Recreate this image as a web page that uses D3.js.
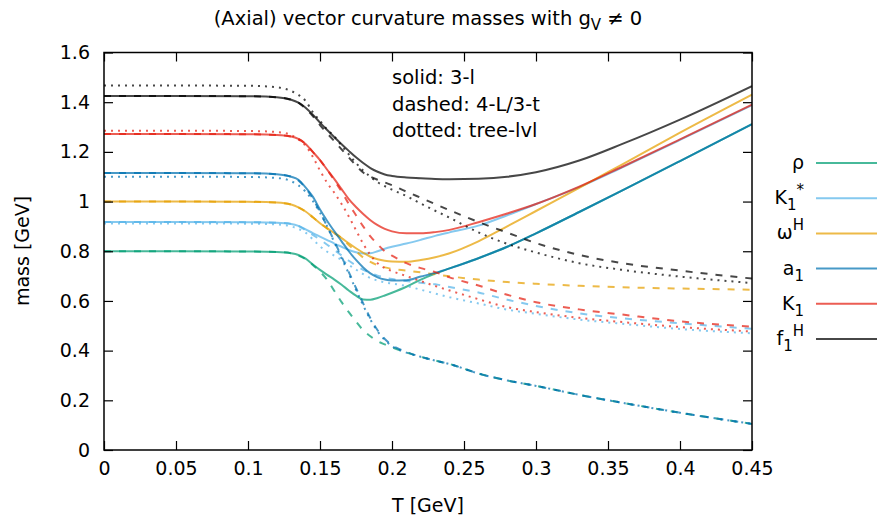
<!DOCTYPE html>
<html><head><meta charset="utf-8">
<script src="https://cdn.jsdelivr.net/npm/d3@7"></script>
<style>body{margin:0;background:#fff}svg{display:block}text{font-family:"DejaVu Sans",sans-serif;fill:#000}</style>
</head><body><svg id="c" width="877" height="521"></svg>
<script>
// ---------- data ----------
const T = [0,0.05,0.1,0.12,0.13,0.135,0.14,0.145,0.15,0.155,0.16,0.165,0.17,0.175,0.18,0.185,0.19,0.195,0.2,0.21,0.22,0.23,0.24,0.26,0.28,0.3,0.33,0.36,0.4,0.45];
const xTicks = [0,0.05,0.1,0.15,0.2,0.25,0.3,0.35,0.4,0.45];
const yTicks = [0,0.2,0.4,0.6,0.8,1,1.2,1.4,1.6];
const legendLabels = ["ρ","K1*","ωH","a1","K1","f1H"];
const colors = ["#009e73","#56b4e9","#e69f00","#0072b2","#e51e10","#000000"];

const rhoSolid   = [0.8,0.8,0.799,0.797,0.792,0.785,0.77,0.747,0.725,0.705,0.686,0.665,0.642,0.621,0.606,0.605,0.612,0.622,0.633,0.657,0.686,0.71,0.731,0.772,0.818,0.872,0.958,1.045,1.163,1.312];
const rhoDashed  = [0.8,0.8,0.799,0.797,0.792,0.783,0.768,0.745,0.718,0.685,0.64,0.595,0.555,0.517,0.482,0.458,0.438,0.425,0.413,0.393,0.375,0.36,0.346,0.308,0.28,0.258,0.222,0.19,0.15,0.105];
const k1sSolid   = [0.918,0.918,0.917,0.915,0.91,0.902,0.888,0.873,0.859,0.845,0.831,0.818,0.805,0.796,0.791,0.792,0.8,0.81,0.818,0.831,0.846,0.862,0.876,0.903,0.945,0.99,1.058,1.138,1.248,1.388];
const k1sDashed  = [0.918,0.918,0.917,0.915,0.91,0.902,0.885,0.866,0.847,0.826,0.805,0.783,0.762,0.742,0.725,0.712,0.702,0.694,0.688,0.68,0.673,0.667,0.656,0.634,0.605,0.58,0.55,0.53,0.51,0.488];
const k1sDotted  = [0.912,0.912,0.911,0.908,0.9,0.89,0.875,0.848,0.82,0.798,0.782,0.765,0.745,0.726,0.708,0.692,0.682,0.675,0.67,0.66,0.645,0.63,0.615,0.59,0.565,0.548,0.525,0.508,0.487,0.47];
const omSolid    = [1.0,1.0,0.999,0.996,0.988,0.977,0.96,0.937,0.913,0.892,0.873,0.853,0.832,0.812,0.794,0.778,0.768,0.762,0.759,0.758,0.765,0.776,0.792,0.84,0.9,0.962,1.055,1.15,1.277,1.43];
const omDashed   = [1.0,1.0,0.999,0.996,0.988,0.977,0.96,0.937,0.913,0.892,0.873,0.853,0.825,0.8,0.775,0.757,0.744,0.735,0.729,0.722,0.715,0.707,0.699,0.686,0.676,0.669,0.661,0.655,0.65,0.645];
const a1Solid    = [1.115,1.115,1.114,1.11,1.1,1.088,1.057,1.02,0.968,0.922,0.88,0.84,0.8,0.765,0.735,0.711,0.695,0.686,0.682,0.683,0.698,0.713,0.731,0.772,0.818,0.872,0.958,1.045,1.163,1.312];
const a1Dashed   = [1.115,1.115,1.114,1.11,1.1,1.085,1.055,1.012,0.958,0.9,0.84,0.778,0.716,0.652,0.59,0.53,0.482,0.447,0.422,0.395,0.375,0.36,0.346,0.308,0.28,0.258,0.222,0.19,0.15,0.105];
const a1Dotted   = [1.1,1.1,1.099,1.095,1.082,1.065,1.04,1.003,0.955,0.9,0.835,0.772,0.71,0.645,0.582,0.525,0.477,0.443,0.418,0.392,0.375,0.36,0.346,0.308,0.28,0.258,0.222,0.19,0.15,0.105];
const k1Solid    = [1.272,1.272,1.271,1.268,1.262,1.252,1.232,1.2,1.167,1.128,1.09,1.05,1.01,0.978,0.95,0.925,0.905,0.89,0.88,0.872,0.872,0.877,0.886,0.917,0.952,0.99,1.06,1.14,1.25,1.39];
const k1Dashed   = [1.272,1.272,1.271,1.268,1.262,1.252,1.232,1.2,1.167,1.128,1.085,1.04,0.99,0.945,0.9,0.86,0.828,0.8,0.782,0.752,0.732,0.716,0.695,0.662,0.625,0.595,0.566,0.545,0.518,0.496];
const k1Dotted   = [1.285,1.285,1.284,1.28,1.268,1.25,1.225,1.18,1.125,1.075,1.035,0.99,0.94,0.885,0.83,0.785,0.752,0.732,0.72,0.7,0.68,0.66,0.642,0.607,0.575,0.555,0.532,0.515,0.495,0.477];
const f1Solid    = [1.425,1.425,1.424,1.42,1.41,1.398,1.378,1.35,1.318,1.288,1.259,1.231,1.204,1.178,1.155,1.135,1.12,1.109,1.103,1.097,1.094,1.091,1.09,1.092,1.1,1.118,1.165,1.232,1.33,1.465];
const f1Dashed   = [1.425,1.425,1.424,1.42,1.41,1.398,1.374,1.344,1.308,1.275,1.243,1.21,1.178,1.145,1.117,1.1,1.088,1.077,1.066,1.04,1.015,0.99,0.965,0.918,0.875,0.833,0.785,0.752,0.722,0.69];
const f1Dotted   = [1.467,1.467,1.466,1.46,1.445,1.43,1.405,1.36,1.325,1.29,1.262,1.225,1.19,1.155,1.125,1.1,1.078,1.062,1.048,1.022,0.992,0.963,0.935,0.876,0.83,0.795,0.752,0.725,0.698,0.672];

const groups = [
  {solid: rhoSolid, dashed: rhoDashed, dotted: null},
  {solid: k1sSolid, dashed: k1sDashed, dotted: k1sDotted},
  {solid: omSolid,  dashed: omDashed,  dotted: null},
  {solid: a1Solid,  dashed: a1Dashed,  dotted: a1Dotted},
  {solid: k1Solid,  dashed: k1Dashed,  dotted: k1Dotted},
  {solid: f1Solid,  dashed: f1Dashed,  dotted: f1Dotted}
];

// ---------- drawing ----------
const svg = d3.select("#c");
const L = 104, R = 752, TOP = 52.5, BOT = 450;
const x = d3.scaleLinear().domain([0,0.45]).range([L,R]);
const y = d3.scaleLinear().domain([0,1.6]).range([BOT,TOP]);
const FS = 19;

svg.append("defs").append("clipPath").attr("id","clip")
  .append("rect").attr("x",L).attr("y",TOP).attr("width",R-L).attr("height",BOT-TOP);

const line = d3.line().x((d,i)=>x(T[i])).y(d=>y(d)).curve(d3.curveMonotoneX);
const plot = svg.append("g").attr("clip-path","url(#clip)");
const styles = {solid:null, dashed:"7,8", dotted:"2,5"};
groups.forEach((g,gi)=>{
  ["solid","dashed","dotted"].forEach(k=>{
    if(!g[k]) return;
    plot.append("path").attr("d",line(g[k]))
      .attr("fill","none").attr("stroke",colors[gi]).attr("stroke-opacity",0.72)
      .attr("stroke-width",2).attr("stroke-dasharray",styles[k]);
  });
});

// axes (inward ticks, mirrored)
const fmt = d=>d3.format("")(+d.toFixed(2));
const ax = svg.append("g");
ax.append("g").attr("transform",`translate(0,${BOT})`)
  .call(d3.axisBottom(x).tickValues(xTicks).tickFormat(fmt).tickSizeInner(-9).tickSizeOuter(0).tickPadding(12));
ax.append("g").attr("transform",`translate(0,${TOP})`)
  .call(d3.axisTop(x).tickValues(xTicks).tickFormat("").tickSizeInner(-9).tickSizeOuter(0));
ax.append("g").attr("transform",`translate(${L},0)`)
  .call(d3.axisLeft(y).tickValues(yTicks).tickFormat(fmt).tickSizeInner(-9).tickSizeOuter(0).tickPadding(14));
ax.append("g").attr("transform",`translate(${R},0)`)
  .call(d3.axisRight(y).tickValues(yTicks).tickFormat("").tickSizeInner(-9).tickSizeOuter(0));
ax.selectAll(".domain").remove();
ax.selectAll(".tick line").attr("stroke","#000").attr("stroke-width",1.2);
ax.selectAll(".tick text").attr("font-size",FS).attr("font-family","DejaVu Sans").attr("fill","#000");
svg.append("rect").attr("x",L).attr("y",TOP).attr("width",R-L).attr("height",BOT-TOP)
  .attr("fill","none").attr("stroke","#000").attr("stroke-width",1.5);

// title
const title = svg.append("text").attr("x",(L+R)/2).attr("y",25).attr("text-anchor","middle").attr("font-size",19.5);
title.append("tspan").text("(Axial) vector curvature masses with g");
title.append("tspan").attr("dy",5).attr("font-size",15).text("V");
title.append("tspan").attr("dy",-5).text(" ≠ 0");

// axis labels
svg.append("text").attr("x",(L+R)/2).attr("y",512).attr("text-anchor","middle").attr("font-size",FS).text("T [GeV]");
svg.append("text").attr("transform","translate(29,251) rotate(-90)").attr("text-anchor","middle").attr("font-size",FS).text("mass [GeV]");

// annotation
["solid: 3-l","dashed: 4-L/3-t","dotted: tree-lvl"].forEach((s,i)=>{
  svg.append("text").attr("x",392).attr("y",84+i*26.5).attr("font-size",19.5).text(s);
});

// legend
const legY0 = 163, legDY = 35.2;
legendLabels.forEach((lab,i)=>{
  const yy = legY0 + i*legDY;
  svg.append("line").attr("x1",816).attr("x2",877).attr("y1",yy).attr("y2",yy)
    .attr("stroke",colors[i]).attr("stroke-opacity",0.72).attr("stroke-width",2);
  const t = svg.append("text").attr("x",804).attr("y",yy+6).attr("text-anchor","end").attr("font-size",FS);
  const base = lab[0];
  const sub = lab.includes("1") ? "1" : "";
  const sup = lab.endsWith("*") ? "*" : (lab.endsWith("H") ? "H" : "");
  t.append("tspan").text(base);
  if(sub){ t.append("tspan").attr("dy",6).attr("font-size",15).text(sub); }
  if(sup){ t.append("tspan").attr("dy", sub ? -15 : -9).attr("font-size",15).text(sup); }
});
</script></body></html>
